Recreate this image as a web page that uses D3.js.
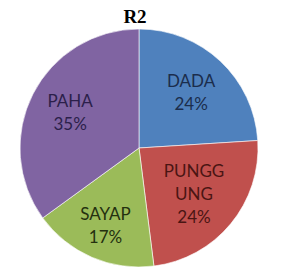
<!DOCTYPE html>
<html><head><meta charset="utf-8">
<script src="https://cdn.jsdelivr.net/npm/d3@7"></script>
<style>html,body{margin:0;padding:0;background:#fff;}</style>
</head><body>
<svg id="c" width="293" height="268"></svg>
<script>
const title = "R2";
const categories = ["DADA", "PUNGGUNG", "SAYAP", "PAHA"];
const labelLines = [["DADA"], ["PUNGG", "UNG"], ["SAYAP"], ["PAHA"]];
const values = [24, 24, 17, 35];

const colors = ["#4F81BD", "#C0504D", "#9BBB59", "#8064A2"];
const textColors = ["#1b2d4c", "#4a1513", "#24300f", "#2b1f4a"];
const labelRadiusFactor = [0.64, 0.60, 0.71, 0.65];

const svg = d3.select("#c");
const cx = 139, cy = 148, R = 119;

svg.append("text").attr("x", 135).attr("y", 23).attr("text-anchor", "middle")
  .attr("font-family", "Liberation Serif, Times New Roman, serif")
  .attr("font-weight", "bold").attr("font-size", 19).attr("fill", "#000").text(title);

const pie = d3.pie().sort(null).value(d => d);
const arcs = pie(values);
const arc = d3.arc().innerRadius(0).outerRadius(R);
const g = svg.append("g").attr("transform", `translate(${cx},${cy})`);

g.selectAll("path").data(arcs).enter().append("path")
  .attr("d", arc).attr("fill", (d, i) => colors[i])
  .attr("stroke", "#fff").attr("stroke-width", 0.6);

const total = d3.sum(values);
const lh = 23;
arcs.forEach((d, i) => {
  const mid = (d.startAngle + d.endAngle) / 2;
  const r = R * labelRadiusFactor[i];
  const x = Math.sin(mid) * r, y = -Math.cos(mid) * r;
  const lines = labelLines[i].concat([Math.round(values[i] / total * 100) + "%"]);
  const t = g.append("text").attr("text-anchor", "middle")
    .attr("font-family", "Lato, 'Open Sans', sans-serif").attr("font-size", 17)
    .attr("fill", textColors[i]);
  const y0 = y - (lines.length - 1) * lh / 2 + 6;
  lines.forEach((l, k) => {
    t.append("tspan").attr("x", x).attr("y", y0 + k * lh).text(l);
  });
});
</script>
</body></html>
